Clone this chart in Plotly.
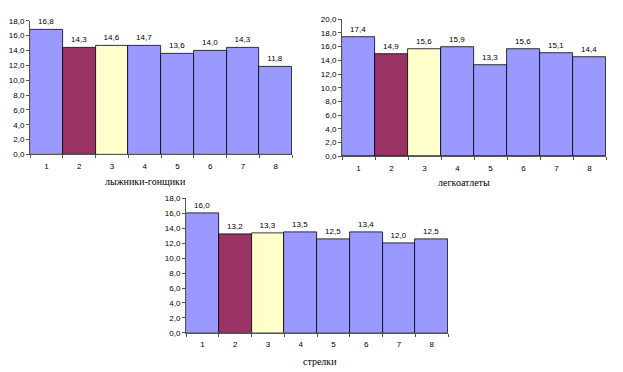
import plotly.graph_objects as go

categories = ["1", "2", "3", "4", "5", "6", "7", "8"]
skiers = [16.8, 14.3, 14.6, 14.7, 13.6, 14.0, 14.3, 11.8]
athletes = [17.4, 14.9, 15.6, 15.9, 13.3, 15.6, 15.1, 14.4]
shooters = [16.0, 13.2, 13.3, 13.5, 12.5, 13.4, 12.0, 12.5]
titles = ["лыжники-гонщики", "легкоатлеты", "стрелки"]
bar_colors = ["#9999FF", "#993366", "#FFFFCC", "#9999FF", "#9999FF", "#9999FF", "#9999FF", "#9999FF"]

# page body has an 8px default margin; figure is placed at (8, 8)
OX, OY = 8, 8
W, H = 623 - OX, 372 - OY
# plot areas in window pixels: (x0, x1, ytop, ybottom, ymax)
boxes = [(30, 292, 17, 154, 18), (342, 606, 15.3, 156, 20), (186, 448, 199, 337, 18)]
series = [skiers, athletes, shooters]
title_pos = [(145, 182), (464, 183), (320, 366)]


def fx(px):
    return (px - OX) / W


def fy(py):
    return 1 - (py - OY) / H


fig = go.Figure()
font_tick = dict(family="Liberation Sans, Arial", size=8, color="black")
annotations = []
for i, (vals, box) in enumerate(zip(series, boxes)):
    x0, x1, yt, yb, ymax = box
    n = "" if i == 0 else str(i + 1)
    fig.add_trace(go.Bar(
        x=categories, y=vals,
        marker=dict(color=bar_colors, line=dict(color="black", width=0.8)),
        text=[f"{v:.1f}".replace(".", ",") for v in vals],
        textposition="outside", cliponaxis=False,
        textfont=font_tick,
        xaxis="x" + n, yaxis="y" + n, showlegend=False,
    ))
    fig.layout["xaxis" + n] = dict(
        domain=[fx(x0), fx(x1)], anchor="y" + n, type="category",
        tickson="boundaries", ticks="outside", ticklen=3, tickcolor="#555",
        showline=True, linecolor="#555", linewidth=1, showgrid=False,
        tickfont=font_tick, fixedrange=True, ticklabelstandoff=4,
    )
    fig.layout["yaxis" + n] = dict(
        domain=[fy(yb), fy(yt)], anchor="x" + n,
        range=[0, ymax], dtick=2, tickformat=".1f", ticks="outside",
        ticklen=3, tickcolor="#555", showline=True, linecolor="#555",
        linewidth=1, showgrid=False, zeroline=False, tickfont=font_tick,
        fixedrange=True,
    )
    tx, ty = title_pos[i]
    annotations.append(dict(
        text=titles[i], x=fx(tx), y=fy(ty), xref="paper", yref="paper",
        showarrow=False, xanchor="center", yanchor="middle",
        font=dict(family="Liberation Serif, Times New Roman, serif", size=10, color="black"),
    ))

fig.update_layout(
    width=W, height=H, margin=dict(l=0, r=0, t=0, b=0),
    paper_bgcolor="white", plot_bgcolor="white",
    bargap=0, separators=", ", annotations=annotations,
)
fig.write_html("out.html")
